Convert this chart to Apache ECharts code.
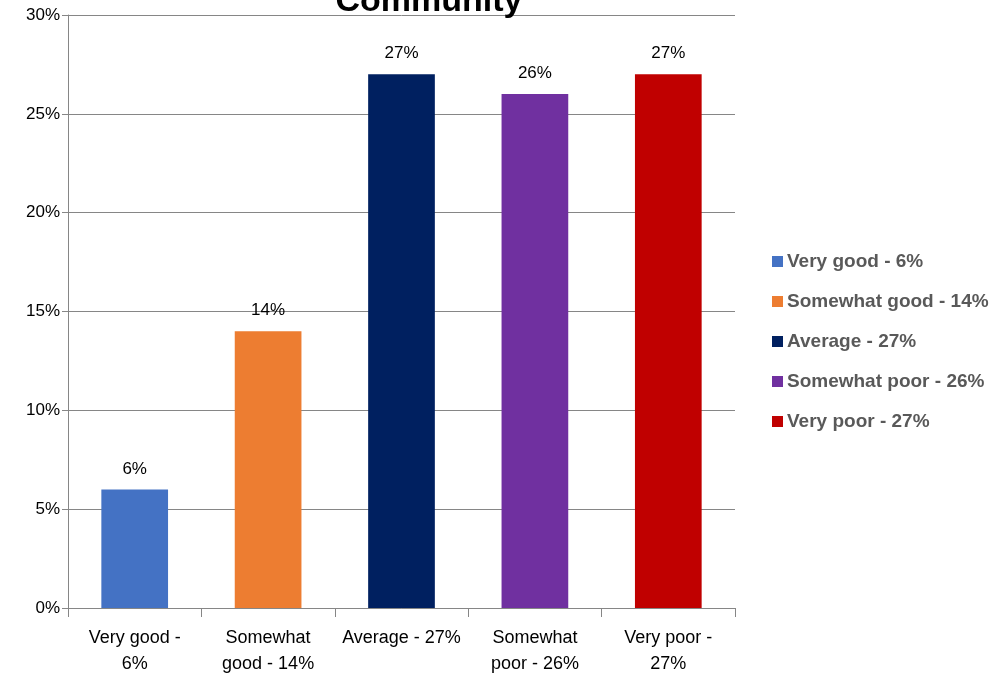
<!DOCTYPE html>
<html>
<head>
<meta charset="utf-8">
<script src="https://cdn.jsdelivr.net/npm/echarts@6/dist/echarts.min.js"></script>
<style>html,body{margin:0;padding:0;background:#fff;}#c{width:995px;height:677px;}</style>
</head>
<body>
<div id="c"></div>
<script>
var categories = ['Very good - 6%', 'Somewhat good - 14%', 'Average - 27%', 'Somewhat poor - 26%', 'Very poor - 27%'];
var tickLabels = ['Very good -\n6%', 'Somewhat\ngood - 14%', 'Average - 27%', 'Somewhat\npoor - 26%', 'Very poor -\n27%'];
var values = [6, 14, 27, 26, 27];
var colors = ['#4472C4', '#ED7D31', '#002060', '#7030A0', '#C00000'];
var yTicks = [0, 5, 10, 15, 20, 25, 30];

var FONT = '"Liberation Sans", Arial, sans-serif';
var series = categories.map(function (name, i) {
  return {
    name: name,
    type: 'bar',
    stack: 'all',
    barWidth: '50%',
    itemStyle: { color: colors[i] },
    label: {
      show: true, position: 'top', distance: 12,
      formatter: function (p) { return p.value + '%'; },
      color: '#000', fontSize: 17, fontFamily: FONT
    },
    data: categories.map(function (c, j) { return j === i ? values[i] : null; })
  };
});

var chart = echarts.init(document.getElementById('c'));
chart.setOption({
  animation: false,
  backgroundColor: '#fff',
  title: {
    text: 'Community', left: 424, top: -20, textAlign: 'center',
    textStyle: { fontSize: 34, fontWeight: 'bold', color: '#000', fontFamily: FONT }
  },
  legend: {
    orient: 'vertical', left: 772, top: 252, itemGap: 21, padding: 0,
    itemWidth: 11, itemHeight: 11, icon: 'rect',
    data: categories,
    textStyle: { fontSize: 19, fontWeight: 'bold', color: '#595959', fontFamily: FONT, padding: [0, 0, 0, -1] }
  },
  grid: { left: 68, right: 260, top: 15, bottom: 69, containLabel: false },
  xAxis: {
    type: 'category', data: categories,
    axisLine: { lineStyle: { color: '#868686', width: 1 } },
    axisTick: { show: true, interval: 0, length: 9, lineStyle: { color: '#868686' } },
    axisLabel: {
      interval: 0, hideOverlap: false,
      color: '#000', fontSize: 18, fontFamily: FONT, margin: 17, lineHeight: 26,
      formatter: function (v, i) { return tickLabels[i]; }
    }
  },
  yAxis: {
    type: 'value', min: yTicks[0], max: yTicks[yTicks.length - 1], interval: 5,
    axisLine: { show: true, lineStyle: { color: '#868686' } },
    axisTick: { show: true, length: 6, lineStyle: { color: '#868686' } },
    splitLine: { lineStyle: { color: '#868686' } },
    axisLabel: { color: '#000', fontSize: 17, fontFamily: FONT, margin: 8, formatter: '{value}%' }
  },
  series: series
});
</script>
</body>
</html>
